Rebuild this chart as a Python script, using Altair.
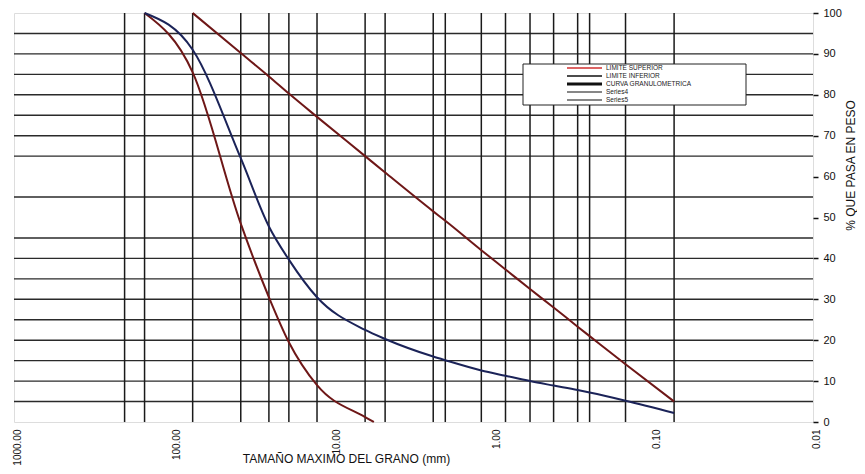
import altair as alt
import pandas as pd

# --- data ---
sieve_mm = [203.2, 152.4, 76.2, 38.1, 25.4, 19.05, 12.7, 6.35, 4.76, 2.38, 2.0,
            1.19, 0.84, 0.59, 0.42, 0.297, 0.25, 0.149, 0.074]
h_grid = [5, 10, 15, 20, 25, 30, 35, 40, 45, 55, 65, 70, 75, 80, 85, 90, 95]

upper_mm = [76.2, 38.1, 25.4, 19.05, 12.7, 6.35, 4.76, 2.38, 2.0, 1.19, 0.84,
            0.59, 0.42, 0.297, 0.25, 0.149, 0.074]
upper_pct = [100, 90.2, 84.5, 80.3, 74.6, 65.0, 61.0, 51.5, 49.2, 42.0, 37.3,
             32.5, 28.0, 23.3, 21.0, 14.1, 5.0]

lower_mm = [152.4, 76.2, 38.1, 25.4, 19.05, 12.7, 6.35, 5.6]
lower_pct = [100, 85.5, 48.5, 30.5, 19.5, 9.0, 1.2, 0]

curve_mm = [152.4, 76.2, 38.1, 25.4, 19.05, 12.7, 6.35, 4.76, 2.38, 2.0, 1.19,
            0.84, 0.59, 0.42, 0.297, 0.25, 0.149, 0.074]
curve_pct = [100, 91.0, 64.5, 47.8, 39.7, 30.5, 22.5, 20.3, 16.0, 15.1, 12.6,
             11.3, 10.0, 8.9, 7.8, 7.2, 5.2, 2.2]

x_ticks = [1000, 100, 10, 1, 0.1, 0.01]
y_ticks = [0, 10, 20, 30, 40, 50, 60, 70, 80, 90, 100]
legend_labels = ["LIMITE SUPERIOR", "LIMITE INFERIOR", "CURVA GRANULOMETRICA",
                 "Series4", "Series5"]

FONT = "Liberation Sans"
RED = "#6e1717"
BLUE = "#1b2358"

xscale = alt.Scale(type="log", domain=[0.01, 1000], reverse=True)
yscale = alt.Scale(domain=[0, 100], nice=False)

xaxis = alt.Axis(values=x_ticks, labelExpr="format(datum.value, '.2f')",
                 labelAngle=270, labelFontSize=10, labelFont=FONT,
                 labelColor="#111", ticks=False, domain=False, grid=False,
                 labelPadding=7, labelOffset=3, labelFlush=False,
                 labelOverlap=False,
                 title="TAMAÑO MAXIMO DEL GRANO (mm)", titleFont=FONT,
                 titleFontSize=12, titleFontWeight="normal", titleColor="#111",
                 titleX=332, titleY=31, titleAnchor="middle",
                 titleBaseline="top")
yaxis = alt.Axis(orient="right", values=y_ticks, labelFontSize=11,
                 labelFont=FONT, labelColor="#111", tickSize=5,
                 tickColor="#111", tickWidth=1.5, labelPadding=5,
                 domain=False, grid=False, title="% QUE PASA EN PESO",
                 titleFont=FONT, titleFontSize=12, titleFontWeight="normal",
                 titleColor="#111", titleAngle=270, titleX=37, titleY=152,
                 titleAnchor="middle", titleBaseline="middle")

X = lambda: alt.X("mm:Q", scale=xscale, axis=xaxis)
Y = lambda: alt.Y("pct:Q", scale=yscale, axis=yaxis)

vgrid = alt.Chart(pd.DataFrame({"mm": sieve_mm})).mark_rule(
    color="#1a1a1a", strokeWidth=1.5).encode(x=X())
hgrid = alt.Chart(pd.DataFrame({"pct": h_grid})).mark_rule(
    color="#2a2a2a", strokeWidth=1.4).encode(y=Y())

series = pd.concat([
    pd.DataFrame({"mm": upper_mm, "pct": upper_pct, "s": "sup"}),
    pd.DataFrame({"mm": lower_mm, "pct": lower_pct, "s": "inf"}),
    pd.DataFrame({"mm": curve_mm, "pct": curve_pct, "s": "curva"}),
])
lines = alt.Chart(series).mark_line(interpolate="monotone", strokeWidth=2).encode(
    x=X(), y=Y(),
    detail="s:N",
    color=alt.Color("s:N", scale=alt.Scale(domain=["sup", "inf", "curva"],
                                           range=[RED, RED, BLUE]), legend=None),
)

# --- manual legend box ---
box = alt.Chart(pd.DataFrame({"a": [0]})).mark_rect(
    fill="white", stroke="#222", strokeWidth=1).encode(
    x=alt.value(509), x2=alt.value(732), y=alt.value(51), y2=alt.value(92))

leg = pd.DataFrame({"label": legend_labels})
leg["ly"] = [55 + 8 * i for i in range(len(legend_labels))]
leg["lc"] = ["#d03030", "#111", "#111", "#111", "#111"]
leg["lw"] = [1.5, 1.5, 3, 1.2, 1.2]

leg_lines = alt.Chart(leg).mark_rule().encode(
    x=alt.value(553), x2=alt.value(588),
    y=alt.Y("ly:Q", scale=None),
    color=alt.Color("lc:N", scale=None),
    strokeWidth=alt.StrokeWidth("lw:Q", scale=None))
leg_text = alt.Chart(leg).mark_text(align="left", baseline="middle",
                                    font=FONT, fontSize=6.5, color="#222").encode(
    x=alt.value(592), y=alt.Y("ly:Q", scale=None), text="label:N")

chart = alt.layer(hgrid, vgrid, lines, box, leg_lines, leg_text).properties(
    width=799, height=409,
    autosize=alt.AutoSizeParams(type="none"),
    padding={"left": 6, "top": 5, "right": 44, "bottom": 44},
).configure_view(stroke="#111", strokeWidth=2.2).configure(background="white")

chart.save("out.html", embed_options={"renderer": "svg", "actions": False})
